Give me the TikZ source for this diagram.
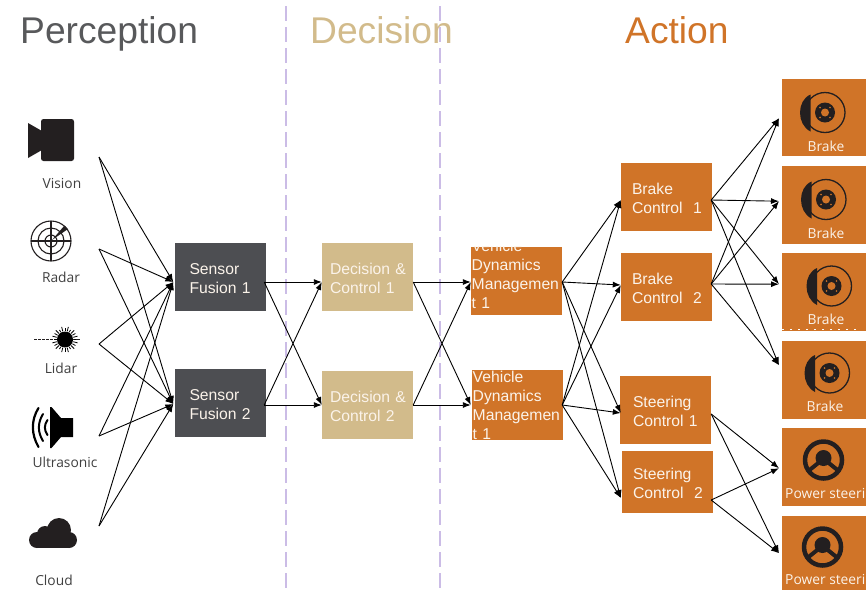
\documentclass[tikz,border=0pt]{standalone}
\usepackage{fontspec}
\setmainfont{Liberation Sans}
\newfontfamily\iconfont{Open Sans}
\usetikzlibrary{arrows.meta}
\definecolor{slatebox}{HTML}{4D4E52}
\definecolor{tanbox}{HTML}{D2BB8B}
\definecolor{orangebox}{HTML}{D07428}
\definecolor{icondark}{HTML}{231F20}
\definecolor{lavender}{HTML}{CBBCE6}
\definecolor{titlegrey}{HTML}{58595B}
\definecolor{labelgrey}{HTML}{404040}
\definecolor{boxtext}{HTML}{FBF3EA}
\tikzset{
  x=1pt,y=-1pt,
  title/.style={anchor=base west,inner sep=0pt,font=\fontsize{37.2}{40}\selectfont},
  stagebox/.style={minimum width=91pt,minimum height=68pt,inner ysep=0pt,inner xsep=0pt,text width=91pt,align=left,text=boxtext,font=\fontsize{15.7}{19}\selectfont,execute at begin node={\hspace*{#1}\rule{0pt}{13.5pt}}},
  stagebox/.default=14.5pt,
  vdtext/.style={anchor=north west,inner sep=0pt,align=left,text=boxtext,text width=91pt,font=\fontsize{15.7}{19.2}\selectfont},
  tile/.style={fill=orangebox,draw=none,inner sep=0pt,anchor=north west},
  tilelabel/.style={inner sep=0pt,text=boxtext,font=\iconfont\fontsize{13.8}{15}\selectfont},
  iconlabel/.style={inner sep=0pt,text=labelgrey,font=\iconfont\fontsize{13.8}{15}\selectfont},
  link/.style={draw=black,line width=0.9pt,-{Latex[length=8pt,width=6pt]}},
  divider/.style={draw=lavender,line width=2pt,dash pattern=on 15pt off 6pt},
  brakepic/.pic={
    \draw[icondark,line width=1.3pt] (0,0) circle[radius=20];
    \fill[icondark] (-14.5,-18) .. controls (-28.5,-12) and (-28.5,12) .. (-14.5,19) -- cycle;
    \fill[icondark] (0,0) circle[radius=10];
    \fill[orangebox] (0,0) circle[radius=4];
    \foreach \a in {45,135,225,315}{\fill[orangebox] (\a:7) circle[radius=0.9];}
  },
  wheelpic/.pic={
    \draw[icondark,line width=4.5pt] (0,0) circle[radius=18.5];
    \fill[icondark] (0,-2) circle[radius=8];
    \draw[icondark,line width=4pt] (-4,2) -- (-14,10) (4,2) -- (14,10);
  },
}
\begin{document}
\begin{tikzpicture}
\useasboundingbox (0,0) rectangle (866,590);
\clip (0,0) rectangle (866,590);

% dividers
\coordinate (divAtop) at (286,6);
\coordinate (divAbot) at (286,590);
\coordinate (divBtop) at (440,6);
\coordinate (divBbot) at (440,590);
\draw[divider] (divAtop) -- (divAbot);
\draw[divider] (divBtop) -- (divBbot);

% titles
\node[title,text=titlegrey] (tperception) at (20,43) {Perception};
\node[title,text=tanbox] (tdecision) at (310,43) {Decision};
\node[title,text=orangebox] (taction) at (625,43) {Action};

% camera
\fill[icondark,rounded corners=2.5pt] (41,119) rectangle (74,161);
\fill[icondark] (28,123) -- (42,131) -- (42,150) -- (28,158) -- cycle;
\node[iconlabel] (lvision) at (62,183) {Vision};
% radar
\begin{scope}[icondark,line width=1.1pt]
\draw (51,241) circle[radius=20] circle[radius=13] circle[radius=6];
\draw (31,241) -- (71,241) (51,221) -- (51,261);
\fill (52,240) -- (64.5,225.5) -- (68,229) -- cycle;
\end{scope}
\node[iconlabel] (lradar) at (61,277) {Radar};
% lidar
\draw[icondark,line width=1pt,dash pattern=on 3pt off 1pt] (34,339.5) -- (57,339.5);
\draw[icondark,line width=0.8pt] (57,339.5) -- (80,339.5);
\fill[black] (65,339.5) circle[radius=8];
\foreach \a/\r in {0/11,15/13,30/12,45/13,60/11,75/13,90/12,105/13,120/11,135/13,150/12,165/13,180/11,195/13,210/12,225/13,240/11,255/13,270/12,285/13,300/11,315/13,330/12,345/13}{
  \draw[black,line width=0.8pt] (65,339.5) ++(\a:8.5) -- +(\a:\r-8.5);
}
\node[iconlabel] (llidar) at (61,368) {Lidar};
% ultrasonic
\fill[black] (50,407) -- (51.5,407) -- (61,418) -- (73,418) -- (73,437) -- (61,437) -- (51.5,448) -- (50,448) -- cycle;
\begin{scope}[black,line cap=round]
\draw[line width=2.2pt] (38.5,408) .. controls (31,420) and (31,434) .. (38.5,447);
\draw[line width=2pt] (43,414) .. controls (37.5,423) and (37.5,432) .. (43,441);
\draw[line width=2pt] (47.5,420) .. controls (44,425) and (44,430) .. (47.5,435);
\end{scope}
\node[iconlabel] (lultra) at (65,462) {Ultrasonic};
% cloud
\fill[icondark] (37,540) circle[radius=8] (45,534) circle[radius=8] (59,530) circle[radius=12] (69,540) circle[radius=8];
\fill[icondark] (37,535) rectangle (69,548);
\node[iconlabel] (lcloud) at (54,580) {Cloud};

% stage boxes
\node[stagebox,fill=slatebox] (sf1) at (220.5,277) {Sensor\\\hspace*{14.5pt}Fusion 1};
\node[stagebox,fill=slatebox] (sf2) at (220.5,403) {Sensor\\\hspace*{14.5pt}Fusion 2};
\node[stagebox=8pt,fill=tanbox] (dc1) at (367.5,277) {Decision \&\\\hspace*{8pt}Control 1};
\node[stagebox=8pt,fill=tanbox] (dc2) at (367.5,405) {Decision \&\\\hspace*{8pt}Control 2};
\node[stagebox,fill=orangebox] (vd1) at (516.5,281) {};
\node[stagebox,fill=orangebox,minimum height=70pt] (vd2) at (517.5,405) {};
\begin{scope}
\clip (vd1.north west) rectangle (vd1.south east);
\node[vdtext] (vd1text) at (471.5,239.5) {Vehicle\\Dynamics\\Managemen\\t 1};
\end{scope}
\begin{scope}
\clip (vd2.north west) rectangle (vd2.south east);
\node[vdtext] (vd2text) at (472.5,370.5) {Vehicle\\Dynamics\\Managemen\\t 1};
\end{scope}
\node[stagebox=11pt,fill=orangebox] (bc1) at (666.5,197) {Brake\\\hspace*{11pt}Control\ \ 1};
\node[stagebox=11pt,fill=orangebox] (bc2) at (666.5,287) {Brake\\\hspace*{11pt}Control\ \ 2};
\node[stagebox=13pt,fill=orangebox] (sc1) at (665.5,410) {Steering\\\hspace*{13pt}Control 1};
\node[stagebox=11pt,fill=orangebox,minimum height=62pt] (sc2) at (667.5,482) {Steering\\\hspace*{11pt}Control\ \ 2};

% actuator tiles
\node[tile,minimum width=84pt,minimum height=77pt] (t1) at (782,79) {};
\node[tile,minimum width=84pt,minimum height=78pt] (t2) at (782,166) {};
\node[tile,minimum width=84pt,minimum height=78pt] (t3) at (782,253) {};
\node[tile,minimum width=84pt,minimum height=78pt] (t4) at (782,341) {};
\node[tile,minimum width=84pt,minimum height=78pt] (t5) at (782,428) {};
\node[tile,minimum width=84pt,minimum height=74pt] (t6) at (782,516) {};
\draw[white,line width=0.8pt,dash pattern=on 2pt off 6pt] ([yshift=2pt]t3.south west) -- ([yshift=2pt,xshift=-6pt]t3.south east);
\pic at (825,112.5) {brakepic};
\pic at (826,199.5) {brakepic};
\pic at (831.5,286) {brakepic};
\pic at (829.5,373) {brakepic};
\pic at (823.5,460) {wheelpic};
\pic at (822.5,547) {wheelpic};
\node[tilelabel] (b1) at (826,146) {Brake};
\node[tilelabel] (b2) at (826,233) {Brake};
\node[tilelabel] (b3) at (826,319) {Brake};
\node[tilelabel] (b4) at (825,406) {Brake};
\node[tilelabel,anchor=west] (p1) at (785,495) {Power steering};
\node[tilelabel,anchor=west] (p2) at (785,581) {Power steering};

% ports
\coordinate (s1) at (99,157);
\coordinate (s2) at (99,249);
\coordinate (s3) at (99,344);
\coordinate (s4) at (99,436);
\coordinate (s5) at (99,526);
\coordinate (sf1in) at ([xshift=-1.5pt,yshift=-5pt]sf1.west);
\coordinate (sf2in) at ([xshift=-1.5pt,yshift=-1pt]sf2.west);
\coordinate (sf1out) at ([xshift=-2pt,yshift=-5pt]sf1.east);
\coordinate (sf2out) at ([xshift=-2pt,yshift=-2pt]sf2.east);
\coordinate (dc1in) at ([yshift=-5pt]dc1.west);
\coordinate (dc2in) at (dc2.west);
\coordinate (dc1out) at ([yshift=-5pt]dc1.east);
\coordinate (dc2out) at (dc2.east);
\coordinate (vd1in) at ([yshift=-1pt]vd1.west);
\coordinate (vd2in) at ([xshift=-1pt]vd2.west);
\coordinate (vd1out) at ([yshift=-1pt]vd1.east);
\coordinate (vd2out) at ([xshift=-1pt]vd2.east);
\coordinate (bc1in) at ([yshift=-3pt]bc1.west);
\coordinate (bc2in) at ([yshift=2pt]bc2.west);
\coordinate (sc1in) at ([xshift=1pt,yshift=-3pt]sc1.west);
\coordinate (sc2in) at ([xshift=-1pt,yshift=-16pt]sc2.west);
\coordinate (bc1out) at ([xshift=-1pt,yshift=-3pt]bc1.east);
\coordinate (bc2out) at ([xshift=-1pt,yshift=3pt]bc2.east);
\coordinate (sc1out) at ([yshift=-4pt]sc1.east);
\coordinate (sc2out) at ([xshift=-2pt,yshift=-18pt]sc2.east);
\coordinate (t1in) at ([xshift=-3pt,yshift=-0.5pt]t1.west);
\coordinate (t2in) at ([xshift=-3pt,yshift=4pt]t2.west);
\coordinate (t3in) at ([xshift=-3pt,yshift=8pt]t3.west);
\coordinate (t4in) at ([xshift=-3pt,yshift=15pt]t4.west);
\coordinate (t5in) at ([xshift=-3pt,yshift=-1pt]t5.west);
\coordinate (t6in) at ([xshift=-3pt,yshift=0pt]t6.west);

% connectors
\foreach \a in {s1,s2,s3,s4,s5}{\foreach \b in {sf1in,sf2in}{\draw[link] (\a) -- (\b);}}
\foreach \a in {sf1out,sf2out}{\foreach \b in {dc1in,dc2in}{\draw[link] (\a) -- (\b);}}
\foreach \a in {dc1out,dc2out}{\foreach \b in {vd1in,vd2in}{\draw[link] (\a) -- (\b);}}
\foreach \a in {vd1out,vd2out}{\foreach \b in {bc1in,bc2in,sc1in,sc2in}{\draw[link] (\a) -- (\b);}}
\foreach \a in {bc1out,bc2out}{\foreach \b in {t1in,t2in,t3in,t4in}{\draw[link] (\a) -- (\b);}}
\foreach \a in {sc1out,sc2out}{\foreach \b in {t5in,t6in}{\draw[link] (\a) -- (\b);}}
\end{tikzpicture}
\end{document}
